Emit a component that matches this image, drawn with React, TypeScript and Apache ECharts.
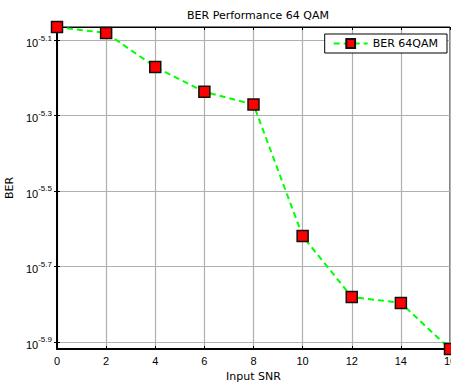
import React, { useEffect, useRef } from 'react';
import * as echarts from 'echarts';

const snr = [0, 2, 4, 6, 8, 10, 12, 14, 16];
const ber = [8.6e-6, 8.29e-6, 6.74e-6, 5.79e-6, 5.36e-6, 2.4e-6, 1.656e-6, 1.596e-6, 1.205e-6];
const yTickExponents = [-5.9, -5.7, -5.5, -5.3, -5.1];
const seriesName = 'BER 64QAM';
const titleText = 'BER Performance 64 QAM';
const xName = 'Input SNR';
const yName = 'BER';

const FONT = 'Liberation Sans, Arial, sans-serif';
const WIDE = 'DejaVu Sans, sans-serif';

export default function App() {
  const ref = useRef<HTMLDivElement>(null);
  useEffect(() => {
    if (!ref.current) return;
    const chart = echarts.init(ref.current, null, { renderer: 'svg' });
    const yTicks = yTickExponents.map((e) => Math.pow(10, e));
    const yMin = 1.205e-6;
    const yMax = 8.6e-6;
    const gridColor = '#b0b0b0';
    chart.setOption({
      animation: false,
      backgroundColor: '#fff',
      textStyle: { fontFamily: FONT },
      title: {
        text: titleText,
        left: 253,
        top: 5,
        textAlign: 'center',
        textStyle: { fontSize: 11, fontWeight: 'normal', color: '#000', fontFamily: WIDE },
      },
      legend: {
        right: 4,
        top: 34,
        backgroundColor: '#fff',
        borderColor: '#000',
        borderWidth: 1,
        borderRadius: 0,
        padding: [4, 9, 4, 8],
        itemWidth: 34,
        itemHeight: 11,
        itemGap: 5,
        textStyle: { fontSize: 11, color: '#000', fontFamily: WIDE },
        data: [seriesName],
      },
      grid: {
        left: 57,
        right: 1,
        top: 27,
        bottom: 38,
        outerBoundsMode: 'none',
        containLabel: false,
        show: true,
        borderColor: '#000',
        borderWidth: 1,
        backgroundColor: '#fff',
      },
      xAxis: [
        {
          type: 'value',
          min: 0,
          max: 16,
          interval: 2,
          name: xName,
          nameLocation: 'middle',
          nameGap: 21,
          nameTextStyle: { fontSize: 11, color: '#000', fontFamily: WIDE },
          axisLine: { show: true, lineStyle: { color: '#000', width: 2 } },
          axisTick: { show: true, inside: true, length: 3, lineStyle: { color: '#000' } },
          axisLabel: { fontSize: 11, color: '#000', margin: 6, fontFamily: FONT, hideOverlap: false },
          splitLine: { show: true, lineStyle: { color: gridColor, width: 1.2 } },
        },
        {
          type: 'value',
          position: 'top',
          min: 0,
          max: 16,
          interval: 2,
          axisLine: { show: true, lineStyle: { color: '#000', width: 1 } },
          axisTick: { show: true, inside: true, length: 3, lineStyle: { color: '#000' } },
          axisLabel: { show: false },
          splitLine: { show: false },
        },
      ],
      yAxis: [
        {
          type: 'log',
          logBase: 10,
          min: yMin,
          max: yMax,
          name: yName,
          nameLocation: 'middle',
          nameGap: 39,
          nameRotate: 90,
          nameTextStyle: { fontSize: 11, color: '#000', fontFamily: WIDE },
          axisLine: { show: true, lineStyle: { color: '#000', width: 2 } },
          axisTick: { show: true, inside: true, length: 3, customValues: yTicks, lineStyle: { color: '#000' } },
          axisLabel: {
            customValues: yTicks,
            margin: 5,
            formatter: (v: number) => `{b|10}{s|${Math.log10(v).toFixed(1)}}`,
            rich: {
              b: { fontSize: 11, color: '#000', fontFamily: FONT, padding: [6, 0, 0, 0] },
              s: { fontSize: 8, color: '#000', fontFamily: FONT, padding: [0, 0, 4, 0] },
            },
          },
          splitLine: { show: true, lineStyle: { color: gridColor, width: 1.2 } },
        },
        {
          type: 'log',
          logBase: 10,
          position: 'right',
          min: yMin,
          max: yMax,
          axisLine: { show: true, lineStyle: { color: '#000', width: 1 } },
          axisTick: { show: true, inside: true, length: 3, customValues: yTicks, lineStyle: { color: '#000' } },
          axisLabel: { show: false },
          splitLine: { show: false },
        },
      ],
      series: [
        {
          name: seriesName,
          type: 'line',
          xAxisIndex: 0,
          yAxisIndex: 0,
          data: snr.map((x, i) => [x, ber[i]]),
          lineStyle: { color: '#00ff00', width: 2, type: [6, 4] },
          symbol: 'rect',
          symbolSize: 11,
          itemStyle: { color: '#ff0000', borderColor: '#111', borderWidth: 1.5 },
          clip: false,
          z: 5,
        },
      ],
    });
    return () => chart.dispose();
  }, []);
  return (
    <div
      ref={ref}
      style={{ position: 'fixed', left: 0, top: 0, width: 451, height: 387 }}
    />
  );
}
